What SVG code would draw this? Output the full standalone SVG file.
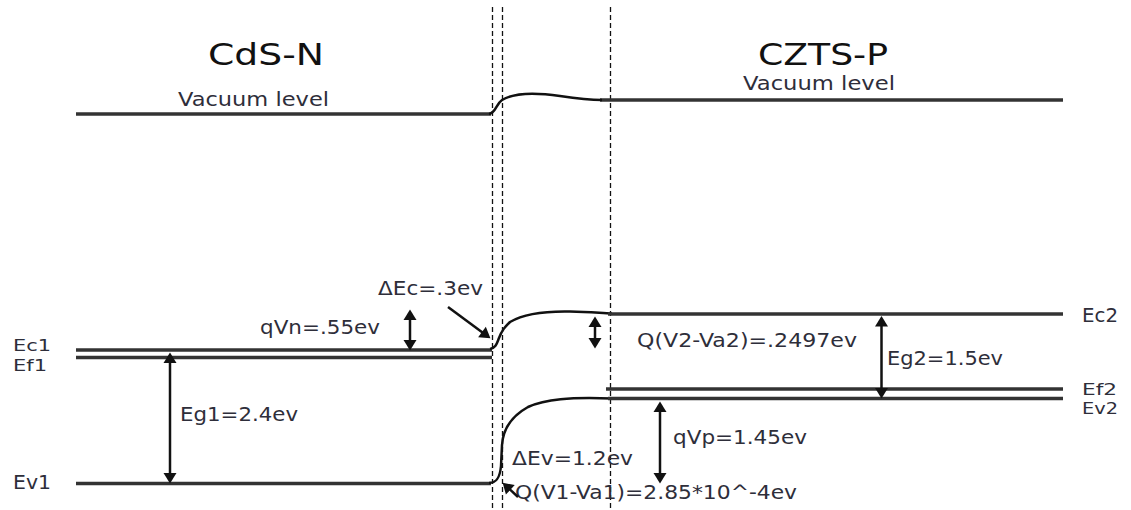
<svg xmlns="http://www.w3.org/2000/svg" width="1131" height="510" viewBox="0 0 1131 510">
<style>
.title{font-family:"DejaVu Sans",Verdana,sans-serif;font-size:30px;fill:#111}
.lbl{font-family:"DejaVu Sans",Verdana,sans-serif;font-size:19px;fill:#2e2e3a}
.sm{font-size:16px}
.lvl{stroke:#333;stroke-width:3.5;fill:none}
.band{stroke:#111;stroke-width:2.5;fill:none}
.dash{stroke:#111;stroke-width:1.3;stroke-dasharray:5 3;fill:none}
.arr{stroke:#111;stroke-width:2.5;fill:none;marker-end:url(#ah)}
.darr{stroke:#111;stroke-width:2.5;fill:none;marker-start:url(#ah);marker-end:url(#ah)}
</style>
<defs>
<marker id="ah" markerUnits="userSpaceOnUse" markerWidth="12" markerHeight="14" viewBox="0 0 11 14" refX="4" refY="7" orient="auto-start-reverse">
<path d="M0,0.5 L10.5,7 L0,13.5 z" fill="#111"/>
</marker>
</defs>
<rect width="1131" height="510" fill="#fff"/>
<g id="boundaries">
<line class="dash" x1="492.5" y1="7" x2="492.5" y2="510"/>
<line class="dash" x1="502.5" y1="7" x2="502.5" y2="510"/>
<line class="dash" x1="610.5" y1="7" x2="610.5" y2="510"/>
</g>
<g id="titles">
<text class="title" x="208" y="65" textLength="116" lengthAdjust="spacingAndGlyphs">CdS-N</text>
<text class="title" x="758" y="65" textLength="130" lengthAdjust="spacingAndGlyphs">CZTS-P</text>
</g>
<g id="vacuum-level">
<line class="lvl" x1="76" y1="114" x2="491" y2="114"/>
<line class="lvl" x1="600" y1="100" x2="1063" y2="100"/>
<path class="band" d="M489,114 C496,113 496,104 502,100 C515,92 540,93 560,96 C580,99 590,100 602,100"/>
<text class="lbl" x="178" y="106" textLength="151" lengthAdjust="spacingAndGlyphs">Vacuum level</text>
<text class="lbl" x="743" y="90" textLength="152" lengthAdjust="spacingAndGlyphs">Vacuum level</text>
</g>
<g id="cds-bands">
<line class="lvl" x1="76" y1="350" x2="492" y2="350"/>
<line class="lvl" x1="76" y1="357.5" x2="492" y2="357.5"/>
<line class="lvl" x1="76" y1="483.5" x2="491" y2="483.5"/>
<text class="lbl sm" x="13" y="351" textLength="38" lengthAdjust="spacingAndGlyphs">Ec1</text>
<text class="lbl sm" x="13" y="371" textLength="34" lengthAdjust="spacingAndGlyphs">Ef1</text>
<text class="lbl" x="13" y="489" textLength="38" lengthAdjust="spacingAndGlyphs">Ev1</text>
<text class="lbl" x="180" y="421" textLength="118" lengthAdjust="spacingAndGlyphs">Eg1=2.4ev</text>
<text class="lbl" x="260" y="334" textLength="120" lengthAdjust="spacingAndGlyphs">qVn=.55ev</text>
<text class="lbl" x="378" y="295" textLength="105" lengthAdjust="spacingAndGlyphs">ΔEc=.3ev</text>
</g>
<g id="junction-bands">
<path class="band" d="M490,349 C496,348 497,343 499,338 C502,330 505,327 510,322 C525,313 545,311 570,311.5 C590,312 600,313 612,313.5"/>
<path class="band" d="M489,483 C497,483 500,477 501,466 L502,445 C503,428 512,416 528,407 C545,399 570,397 612,398.5"/>
<text class="lbl" x="512" y="465" textLength="121" lengthAdjust="spacingAndGlyphs">ΔEv=1.2ev</text>
<text class="lbl" x="515" y="499" textLength="282" lengthAdjust="spacingAndGlyphs">Q(V1-Va1)=2.85*10^-4ev</text>
</g>
<g id="czts-bands">
<line class="lvl" x1="608" y1="314" x2="1063" y2="314"/>
<line class="lvl" x1="606" y1="389" x2="1063" y2="389"/>
<line class="lvl" x1="608" y1="398.5" x2="1063" y2="398.5"/>
<text class="lbl" x="1082" y="322" textLength="36" lengthAdjust="spacingAndGlyphs">Ec2</text>
<text class="lbl sm" x="1082" y="395" textLength="35" lengthAdjust="spacingAndGlyphs">Ef2</text>
<text class="lbl sm" x="1082" y="414" textLength="36" lengthAdjust="spacingAndGlyphs">Ev2</text>
<text class="lbl" x="637" y="347" textLength="220" lengthAdjust="spacingAndGlyphs">Q(V2-Va2)=.2497ev</text>
<text class="lbl" x="887" y="365" textLength="116" lengthAdjust="spacingAndGlyphs">Eg2=1.5ev</text>
<text class="lbl" x="673" y="444" textLength="134" lengthAdjust="spacingAndGlyphs">qVp=1.45ev</text>
</g>
<g id="connectors">
<line class="darr" x1="170" y1="359" x2="170" y2="477"/>
<line class="darr" x1="410" y1="316" x2="410" y2="344"/>
<line class="darr" x1="595" y1="323" x2="595" y2="342"/>
<line class="darr" x1="881.5" y1="322.5" x2="881.5" y2="392"/>
<line class="darr" x1="660" y1="408" x2="660" y2="477"/>
<line class="arr" x1="448" y1="307" x2="485.2" y2="334.4"/>
<line class="arr" x1="518" y1="497" x2="507.4" y2="487.1"/>
</g>
</svg>
